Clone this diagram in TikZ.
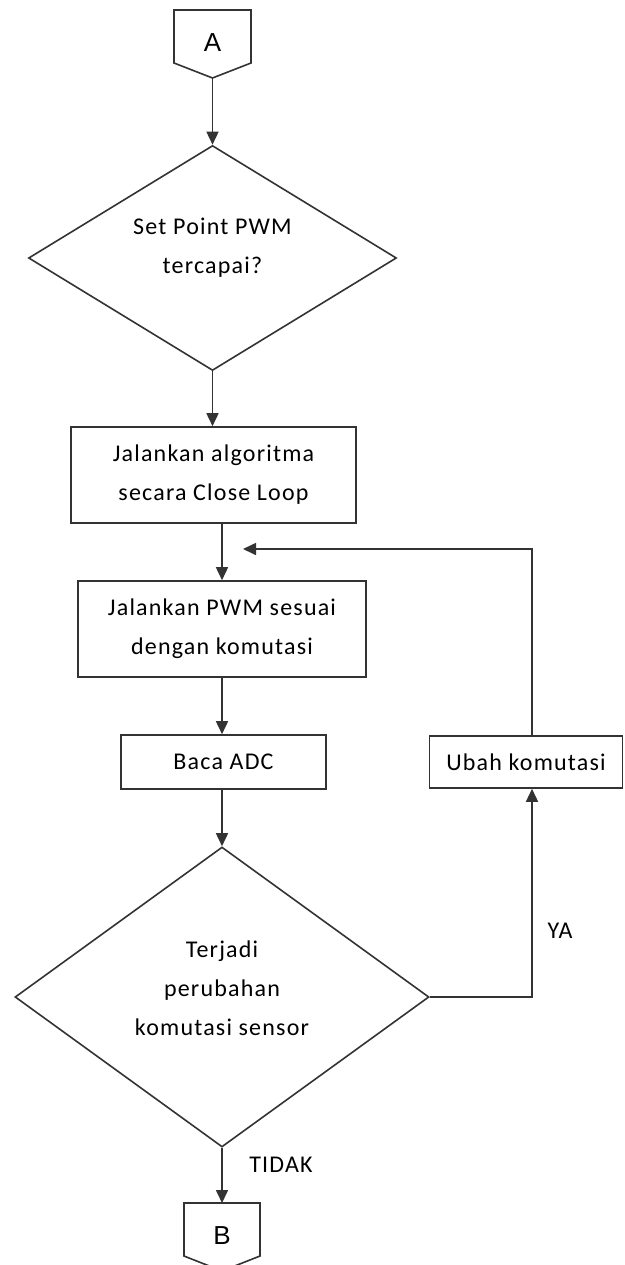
\documentclass[tikz,border=0pt]{standalone}
\usepackage{fontspec}
\setmainfont{Carlito}[LetterSpace=5]
\newfontfamily\connfont{Liberation Sans}
\usetikzlibrary{shapes.geometric,arrows.meta}
\definecolor{linegray}{HTML}{333333}
\begin{document}
\begin{tikzpicture}[x=1pt,y=-1pt,
  line/.style={draw=linegray,line width=1.6pt},
  flow/.style={line,-{Triangle[width=12pt,length=13pt]}},
  txt/.style={font=\fontsize{24}{39}\selectfont,align=center,text=black,inner sep=0pt},
  box/.style={line,rectangle,txt},
  decision/.style={line,diamond,inner sep=0pt},
  conn/.style={font=\connfont\fontsize{26}{30}\selectfont,text=black,inner sep=0pt},
]
\clip (0,0) rectangle (624,1265);
\useasboundingbox (0,0) rectangle (624,1265);

% off-page connector A
\draw[line,line join=miter] (174,10) -- (251,10) -- (251,63) -- (212.5,78) -- (174,63) -- cycle;
\node[conn] (A) at (212.5,43) {A};
\coordinate (Atip) at (212.5,78);

% first decision
\node[decision,minimum width=368pt,minimum height=225pt] (d1) at (212.5,258) {};
\node[txt] (d1t) at (212.5,247.5) {Set Point PWM\\tercapai?};

% process boxes
\node[box,minimum width=285pt,minimum height=96pt] (r1) at (213.5,475) {Jalankan algoritma\\secara Close Loop};
\node[box,minimum width=288pt,minimum height=96pt] (r2) at (222,629) {Jalankan PWM sesuai\\dengan komutasi};
\node[box,minimum width=205pt,minimum height=54pt] (adc) at (223.5,762) {Baca ADC};
\node[box,minimum width=193pt,minimum height=52pt] (ubah) at (526,762) {Ubah komutasi};

% second decision
\node[decision,minimum width=414pt,minimum height=300pt] (d2) at (222,997) {};
\node[txt] (d2t) at (222,988) {Terjadi\\perubahan\\komutasi sensor};

% off-page connector B
\draw[line,line join=miter] (184,1203) -- (260,1203) -- (260,1256) -- (222,1271) -- (184,1256) -- cycle;
\node[conn] (B) at (222,1236) {B};
\coordinate (Btop) at (222,1203);

% branch labels
\node[txt] (ya) at (560,931) {YA};
\node[txt] (tidak) at (281,1165) {TIDAK};

% loop-back line
\coordinate (loopx) at (532,762);
\coordinate (back) at (243,549);

% connectors
\draw[flow] (Atip) -- (d1.north);
\draw[flow] (d1.south) -- (d1.south |- r1.north);
\draw[flow] (r2.north |- r1.south) -- (r2.north);
\draw[flow] (r2.south) -- (r2.south |- adc.north);
\draw[flow] (d2.north |- adc.south) -- (d2.north);
\draw[flow] (d2.south) -- (Btop);
\draw[flow] (d2.east) -| (loopx |- ubah.south);
\draw[flow] (loopx |- ubah.north) |- (back);
\end{tikzpicture}
\end{document}
